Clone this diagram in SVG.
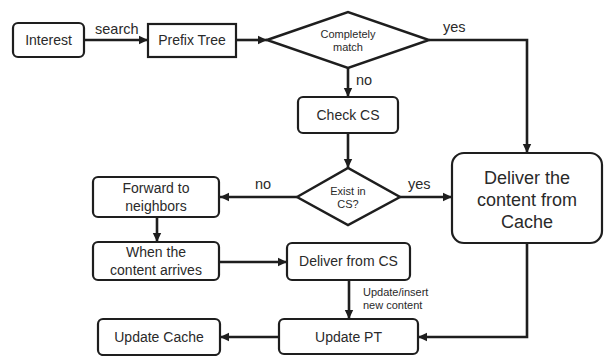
<svg xmlns="http://www.w3.org/2000/svg" width="608" height="356" viewBox="0 0 608 356">
  <defs>
    <marker id="arrow" markerUnits="userSpaceOnUse" markerWidth="10" markerHeight="10" refX="9" refY="5" orient="auto">
      <path d="M0,0.8 L9,5 L0,9.2 Z" fill="#1e1e1e"/>
    </marker>
    <style>
      .box { fill: #fff; stroke: #1e1e1e; stroke-width: 2.2; }
      .dia { fill: #fff; stroke: #1e1e1e; stroke-width: 2.5; stroke-linejoin: miter; }
      .edge { fill: none; stroke: #1e1e1e; stroke-width: 2.6; marker-end: url(#arrow); }
      text { font-family: "Liberation Sans", Arial, sans-serif; fill: #2a2a2a; text-anchor: middle; }
      .t14 { font-size: 14px; }
      .t18 { font-size: 18px; }
      .t11 { font-size: 11px; }
      .lbl { font-size: 14.5px; text-anchor: start; }
      .sm { font-size: 11px; text-anchor: start; }
    </style>
  </defs>

  <!-- connectors -->
  <g id="connectors">
    <path class="edge" d="M84,40 H148"/>
    <path class="edge" d="M236,40 H267"/>
    <path class="edge" d="M429,40 H527 V153"/>
    <path class="edge" d="M348,68 V97"/>
    <path class="edge" d="M348,133 V168"/>
    <path class="edge" d="M297,197 H220"/>
    <path class="edge" d="M400,197 H452"/>
    <path class="edge" d="M157,217 V242"/>
    <path class="edge" d="M219,262 H287"/>
    <path class="edge" d="M349,280 V319"/>
    <path class="edge" d="M527,243 V337 H418"/>
    <path class="edge" d="M279,337 H220"/>
    <text class="lbl" x="95" y="34">search</text>
    <text class="lbl" x="443" y="32">yes</text>
    <text class="lbl" x="356" y="85">no</text>
    <text class="lbl" x="255" y="189">no</text>
    <text class="lbl" x="408" y="189">yes</text>
    <text class="sm" x="363" y="296">Update/insert</text>
    <text class="sm" x="363" y="309">new content</text>
  </g>

  <g id="interest">
    <rect class="box" x="13" y="23" width="71" height="34" rx="5"/>
    <text class="t14" x="48.5" y="45">Interest</text>
  </g>

  <g id="prefix-tree">
    <rect class="box" x="148" y="24" width="88" height="33"/>
    <text class="t14" x="192" y="45">Prefix Tree</text>
  </g>

  <g id="completely-match">
    <polygon class="dia" points="267,40 348,12 429,40 348,68"/>
    <text class="t11" x="348" y="38">Completely</text>
    <text class="t11" x="348" y="51">match</text>
  </g>

  <g id="check-cs">
    <rect class="box" x="298" y="97" width="100" height="36" rx="5"/>
    <text class="t14" x="348" y="120">Check CS</text>
  </g>

  <g id="exist-in-cs">
    <polygon class="dia" points="297,197 348,168 400,197 348,225"/>
    <text class="t11" x="348" y="195">Exist in</text>
    <text class="t11" x="348" y="208">CS?</text>
  </g>

  <g id="deliver-cache">
    <rect class="box" x="452" y="153" width="150" height="90" rx="12"/>
    <text class="t18" x="527" y="184">Deliver the</text>
    <text class="t18" x="527" y="206">content from</text>
    <text class="t18" x="527" y="228">Cache</text>
  </g>

  <g id="forward">
    <rect class="box" x="93" y="177" width="126" height="40" rx="5"/>
    <text class="t14" x="156" y="193">Forward to</text>
    <text class="t14" x="156" y="211">neighbors</text>
  </g>

  <g id="content-arrives">
    <rect class="box" x="93" y="242" width="126" height="38" rx="5"/>
    <text class="t14" x="156" y="257">When the</text>
    <text class="t14" x="156" y="275">content arrives</text>
  </g>

  <g id="deliver-cs">
    <rect class="box" x="287" y="243" width="123" height="37" rx="5"/>
    <text class="t14" x="348.5" y="266">Deliver from CS</text>
  </g>

  <g id="update-pt">
    <rect class="box" x="279" y="319" width="139" height="35" rx="5"/>
    <text class="t14" x="348.5" y="342">Update PT</text>
  </g>

  <g id="update-cache">
    <rect class="box" x="98" y="319" width="122" height="36" rx="5"/>
    <text class="t14" x="159" y="342">Update Cache</text>
  </g>
</svg>
